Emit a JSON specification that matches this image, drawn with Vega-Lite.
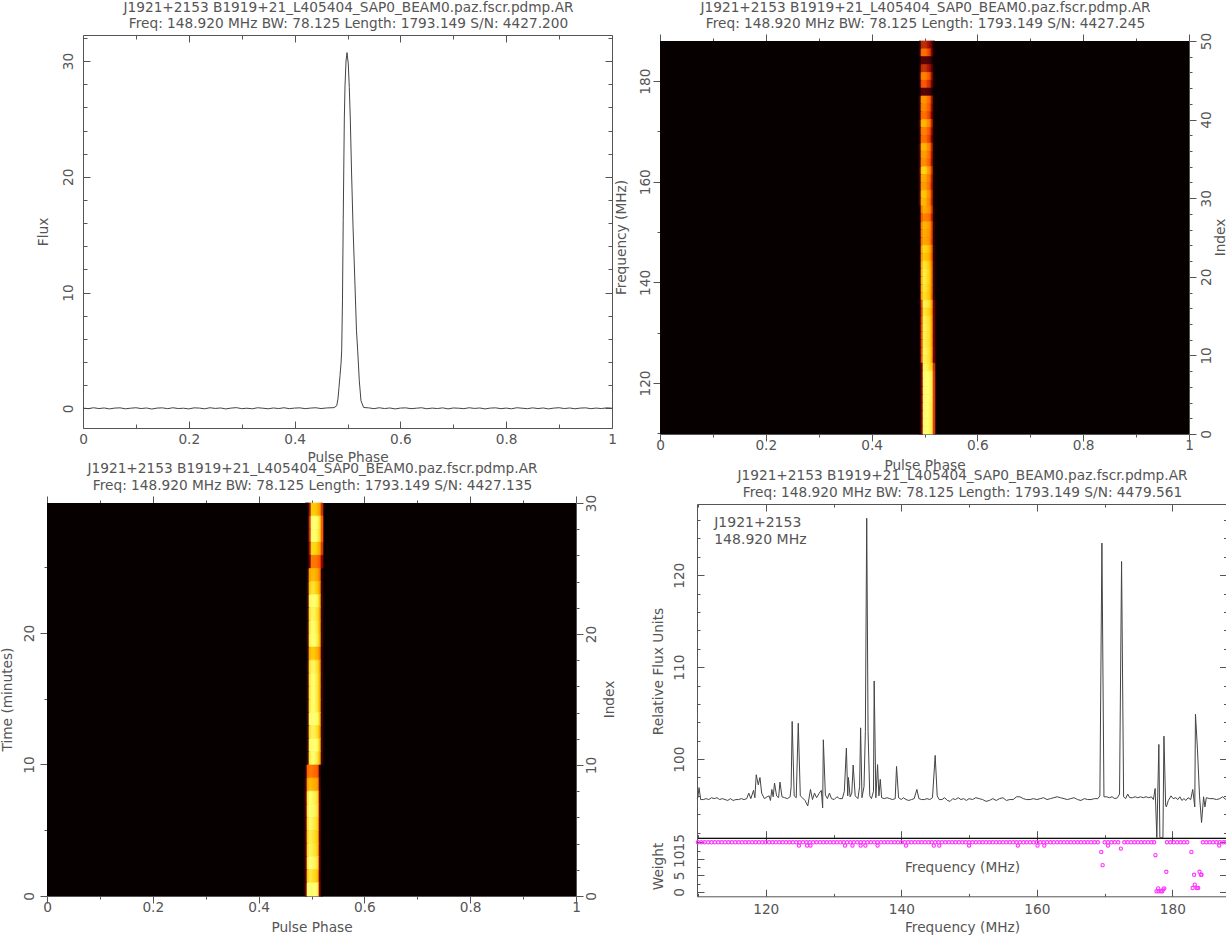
{"$schema":"https://vega.github.io/schema/vega-lite/v6.json","padding":0,"background":"white","columns":2,"spacing":0,"bounds":"flush",
"config":{"view":{"stroke":null},"font":"DejaVu Sans","concat":{"spacing":0},
"axis":{"grid":false,"domainColor":"#555","tickColor":"#555","labelColor":"#555","titleColor":"#555","labelFont":"DejaVu Sans","titleFont":"DejaVu Sans","labelFontSize":13.7,"titleFontSize":13.7,"titleFontWeight":"normal","labelOverlap":false,"labelFlush":false,"format":"~f","domainWidth":1,"tickWidth":1},
"axisX":{"labelAngle":0,"labelAlign":"center","labelBaseline":"middle","titleAlign":"center","titleBaseline":"middle"},
"axisY":{"labelAngle":-90,"labelAlign":"center","labelBaseline":"middle","titleAngle":-90,"titleAlign":"center","titleBaseline":"middle"}},
"datasets":{"e":[],
"profile":[{"p":0,"v":0.02},{"p":0.01,"v":-0.03},{"p":0.02,"v":0.05},{"p":0.03,"v":-0.02},{"p":0.04,"v":0.03},{"p":0.05,"v":-0.05},{"p":0.06,"v":0.02},{"p":0.07,"v":0.04},{"p":0.08,"v":-0.04},{"p":0.09,"v":0.01},{"p":0.1,"v":0.05},{"p":0.11,"v":-0.02},{"p":0.12,"v":0.03},{"p":0.13,"v":-0.06},{"p":0.14,"v":0.02},{"p":0.15,"v":0.04},{"p":0.16,"v":-0.03},{"p":0.17,"v":0.05},{"p":0.18,"v":-0.02},{"p":0.19,"v":0.01},{"p":0.2,"v":-0.05},{"p":0.21,"v":0.04},{"p":0.22,"v":0.02},{"p":0.23,"v":-0.04},{"p":0.24,"v":0.05},{"p":0.25,"v":-0.01},{"p":0.26,"v":0.03},{"p":0.27,"v":-0.05},{"p":0.28,"v":0.02},{"p":0.29,"v":0.06},{"p":0.3,"v":-0.03},{"p":0.31,"v":0.01},{"p":0.32,"v":-0.04},{"p":0.33,"v":0.05},{"p":0.34,"v":0.01},{"p":0.35,"v":-0.04},{"p":0.36,"v":0.03},{"p":0.37,"v":-0.02},{"p":0.38,"v":0.05},{"p":0.39,"v":-0.03},{"p":0.4,"v":0.02},{"p":0.41,"v":0.04},{"p":0.42,"v":-0.03},{"p":0.43,"v":0.02},{"p":0.44,"v":0.05},{"p":0.45,"v":-0.02},{"p":0.46,"v":0.03},{"p":0.4745,"v":0.06},{"p":0.4796,"v":0.22},{"p":0.482,"v":0.82},{"p":0.4839,"v":1.8},{"p":0.4858,"v":2.81},{"p":0.4877,"v":3.84},{"p":0.489,"v":4.97},{"p":0.4905,"v":9.28},{"p":0.4919,"v":16.2},{"p":0.494,"v":25},{"p":0.4953,"v":27.85},{"p":0.4972,"v":30},{"p":0.4991,"v":30.73},{"p":0.5015,"v":29.75},{"p":0.5034,"v":27.7},{"p":0.5053,"v":25},{"p":0.5076,"v":20.5},{"p":0.5104,"v":15.76},{"p":0.5142,"v":10.58},{"p":0.517,"v":6.69},{"p":0.5193,"v":4.97},{"p":0.5223,"v":2.37},{"p":0.5255,"v":0.65},{"p":0.5306,"v":0.07},{"p":0.54,"v":0.04},{"p":0.55,"v":-0.03},{"p":0.56,"v":0.05},{"p":0.57,"v":-0.02},{"p":0.58,"v":0.03},{"p":0.59,"v":-0.05},{"p":0.6,"v":0.02},{"p":0.61,"v":0.04},{"p":0.62,"v":-0.03},{"p":0.63,"v":0.01},{"p":0.64,"v":0.05},{"p":0.65,"v":-0.04},{"p":0.66,"v":0.02},{"p":0.67,"v":-0.02},{"p":0.68,"v":0.04},{"p":0.69,"v":-0.05},{"p":0.7,"v":0.03},{"p":0.71,"v":0.01},{"p":0.72,"v":-0.03},{"p":0.73,"v":0.05},{"p":0.74,"v":-0.01},{"p":0.75,"v":0.03},{"p":0.76,"v":-0.05},{"p":0.77,"v":0.02},{"p":0.78,"v":0.04},{"p":0.79,"v":-0.03},{"p":0.8,"v":0.02},{"p":0.81,"v":-0.04},{"p":0.82,"v":0.05},{"p":0.83,"v":0.01},{"p":0.84,"v":-0.03},{"p":0.85,"v":0.04},{"p":0.86,"v":-0.02},{"p":0.87,"v":0.03},{"p":0.88,"v":-0.05},{"p":0.89,"v":0.02},{"p":0.9,"v":0.05},{"p":0.91,"v":-0.02},{"p":0.92,"v":0.03},{"p":0.93,"v":-0.04},{"p":0.94,"v":0.02},{"p":0.95,"v":0.04},{"p":0.96,"v":-0.03},{"p":0.97,"v":0.02},{"p":0.98,"v":-0.02},{"p":0.99,"v":0.04},{"p":1,"v":0.01}],
"colsTR":[{"k":"b","p":0.4896,"q":0.4934},{"k":"c","p":0.4934,"q":0.4972},{"k":"d","p":0.4972,"q":0.5009},{"k":"e","p":0.5009,"q":0.5047},{"k":"f","p":0.5047,"q":0.5085},{"k":"g","p":0.5085,"q":0.5123},{"k":"h","p":0.5123,"q":0.5161},{"k":"j","p":0.5161,"q":0.5198}],
"colsBL":[{"k":"b","p":0.4877,"q":0.4915},{"k":"c","p":0.4915,"q":0.4953},{"k":"d","p":0.4953,"q":0.4991},{"k":"e","p":0.4991,"q":0.5028},{"k":"f","p":0.5028,"q":0.5066},{"k":"g","p":0.5066,"q":0.5104},{"k":"h","p":0.5104,"q":0.5142},{"k":"j","p":0.5142,"q":0.518},{"k":"l","p":0.518,"q":0.5217}],
"heatTR":[{"i":49,"t":50,"b":7,"c":33,"d":35,"e":34,"f":30,"g":27,"h":18,"j":3},{"i":48,"t":49,"b":10,"c":48,"d":50,"e":49,"f":43,"g":39,"h":25,"j":4},{"i":47,"t":48,"b":4,"c":17,"d":18,"e":17,"f":15,"g":14,"h":9,"j":1},{"i":46,"t":47,"b":7,"c":34,"d":36,"e":35,"f":31,"g":28,"h":18,"j":3},{"i":45,"t":46,"b":11,"c":52,"d":55,"e":53,"f":47,"g":43,"h":28,"j":4},{"i":44,"t":45,"b":9,"c":43,"d":45,"e":44,"f":38,"g":35,"h":23,"j":4},{"i":43,"t":44,"b":4,"c":17,"d":18,"e":17,"f":15,"g":14,"h":9,"j":1},{"i":42,"t":43,"b":12,"c":57,"d":60,"e":58,"f":51,"g":47,"h":30,"j":5},{"i":41,"t":42,"b":11,"c":53,"d":56,"e":54,"f":48,"g":44,"h":28,"j":4},{"i":40,"t":41,"b":10,"c":48,"d":50,"e":49,"f":43,"g":39,"h":25,"j":4},{"i":39,"t":40,"b":14,"c":65,"d":68,"e":66,"f":58,"g":53,"h":34,"j":5},{"i":38,"t":39,"b":11,"c":52,"d":55,"e":53,"f":47,"g":43,"h":28,"j":4},{"i":37,"t":38,"b":10,"c":48,"d":50,"e":49,"f":43,"g":39,"h":25,"j":4},{"i":36,"t":37,"b":14,"c":65,"d":68,"e":66,"f":58,"g":53,"h":34,"j":5},{"i":35,"t":36,"b":12,"c":59,"d":62,"e":60,"f":53,"g":48,"h":31,"j":5},{"i":34,"t":35,"b":12,"c":55,"d":58,"e":56,"f":49,"g":45,"h":29,"j":5},{"i":33,"t":34,"b":15,"c":71,"d":75,"e":73,"f":64,"g":58,"h":38,"j":6},{"i":32,"t":33,"b":13,"c":62,"d":65,"e":63,"f":55,"g":51,"h":33,"j":5},{"i":31,"t":32,"b":12,"c":59,"d":62,"e":60,"f":53,"g":48,"h":31,"j":5},{"i":30,"t":31,"b":14,"c":68,"d":72,"e":70,"f":61,"g":56,"h":36,"j":6},{"i":29,"t":30,"b":14,"c":65,"d":68,"e":66,"f":58,"g":53,"h":34,"j":5},{"i":28,"t":29,"b":5,"c":52,"d":65,"e":63,"f":60,"g":57,"h":40,"j":9},{"i":27,"t":28,"b":4,"c":44,"d":55,"e":53,"f":51,"g":48,"h":34,"j":8},{"i":26,"t":27,"b":5,"c":54,"d":68,"e":66,"f":63,"g":60,"h":42,"j":10},{"i":25,"t":26,"b":5,"c":53,"d":66,"e":64,"f":61,"g":58,"h":41,"j":9},{"i":24,"t":25,"b":4,"c":51,"d":64,"e":62,"f":60,"g":56,"h":40,"j":9},{"i":23,"t":24,"b":5,"c":61,"d":76,"e":74,"f":71,"g":67,"h":47,"j":11},{"i":22,"t":23,"b":5,"c":58,"d":72,"e":70,"f":67,"g":63,"h":45,"j":10},{"i":21,"t":22,"b":6,"c":64,"d":80,"e":78,"f":74,"g":70,"h":50,"j":11},{"i":20,"t":21,"b":6,"c":66,"d":82,"e":80,"f":76,"g":72,"h":51,"j":11},{"i":19,"t":20,"b":6,"c":66,"d":82,"e":80,"f":76,"g":72,"h":51,"j":11},{"i":18,"t":19,"b":6,"c":64,"d":80,"e":78,"f":74,"g":70,"h":50,"j":11},{"i":17,"t":18,"b":5,"c":62,"d":78,"e":76,"f":73,"g":69,"h":48,"j":11},{"i":16,"t":17,"b":3,"c":43,"d":85,"e":83,"f":80,"g":77,"h":64,"j":21},{"i":15,"t":16,"b":2,"c":40,"d":80,"e":78,"f":75,"g":72,"h":60,"j":20},{"i":14,"t":15,"b":3,"c":42,"d":84,"e":82,"f":79,"g":76,"h":63,"j":21},{"i":13,"t":14,"b":3,"c":43,"d":85,"e":83,"f":80,"g":77,"h":64,"j":21},{"i":12,"t":13,"b":3,"c":42,"d":84,"e":82,"f":79,"g":76,"h":63,"j":21},{"i":11,"t":12,"b":3,"c":42,"d":84,"e":82,"f":79,"g":76,"h":63,"j":21},{"i":10,"t":11,"b":3,"c":43,"d":86,"e":84,"f":81,"g":77,"h":65,"j":22},{"i":9,"t":10,"b":3,"c":43,"d":85,"e":83,"f":80,"g":77,"h":64,"j":21},{"i":8,"t":9,"b":1,"c":22,"d":85,"e":85,"f":82,"g":78,"h":75,"j":36},{"i":7,"t":8,"b":1,"c":24,"d":94,"e":94,"f":90,"g":86,"h":83,"j":39},{"i":6,"t":7,"b":1,"c":24,"d":94,"e":94,"f":90,"g":86,"h":83,"j":39},{"i":5,"t":6,"b":1,"c":24,"d":94,"e":94,"f":90,"g":86,"h":83,"j":39},{"i":4,"t":5,"b":1,"c":24,"d":94,"e":94,"f":90,"g":86,"h":83,"j":39},{"i":3,"t":4,"b":1,"c":24,"d":92,"e":92,"f":88,"g":85,"h":81,"j":39},{"i":2,"t":3,"b":1,"c":24,"d":92,"e":92,"f":88,"g":85,"h":81,"j":39},{"i":1,"t":2,"b":1,"c":24,"d":92,"e":92,"f":88,"g":85,"h":81,"j":39},{"i":0,"t":1,"b":1,"c":24,"d":92,"e":92,"f":88,"g":85,"h":81,"j":39}],
"heatBL":[{"i":29,"t":30,"b":0,"c":2,"d":29,"e":72,"f":72,"g":71,"h":66,"j":61,"l":36},{"i":28,"t":29,"b":0,"c":3,"d":37,"e":92,"f":92,"g":90,"h":85,"j":78,"l":46},{"i":27,"t":28,"b":0,"c":3,"d":36,"e":90,"f":90,"g":88,"h":83,"j":77,"l":45},{"i":26,"t":27,"b":0,"c":2,"d":30,"e":75,"f":75,"g":74,"h":69,"j":64,"l":38},{"i":25,"t":26,"b":0,"c":2,"d":21,"e":52,"f":52,"g":51,"h":48,"j":44,"l":26},{"i":24,"t":25,"b":0,"c":10,"d":61,"e":68,"f":68,"g":65,"h":61,"j":51,"l":10},{"i":23,"t":24,"b":0,"c":12,"d":70,"e":78,"f":78,"g":74,"h":70,"j":59,"l":12},{"i":22,"t":23,"b":0,"c":14,"d":83,"e":92,"f":92,"g":87,"h":83,"j":69,"l":14},{"i":21,"t":22,"b":0,"c":13,"d":77,"e":85,"f":85,"g":81,"h":77,"j":64,"l":13},{"i":20,"t":21,"b":0,"c":13,"d":79,"e":88,"f":88,"g":84,"h":79,"j":66,"l":13},{"i":19,"t":20,"b":0,"c":14,"d":81,"e":90,"f":90,"g":86,"h":81,"j":68,"l":14},{"i":18,"t":19,"b":0,"c":11,"d":65,"e":72,"f":72,"g":68,"h":65,"j":54,"l":11},{"i":17,"t":18,"b":0,"c":13,"d":77,"e":85,"f":85,"g":81,"h":77,"j":64,"l":13},{"i":16,"t":17,"b":0,"c":13,"d":79,"e":88,"f":88,"g":84,"h":79,"j":66,"l":13},{"i":15,"t":16,"b":0,"c":13,"d":79,"e":88,"f":88,"g":84,"h":79,"j":66,"l":13},{"i":14,"t":15,"b":0,"c":13,"d":79,"e":88,"f":88,"g":84,"h":79,"j":66,"l":13},{"i":13,"t":14,"b":0,"c":14,"d":86,"e":96,"f":96,"g":91,"h":86,"j":72,"l":14},{"i":12,"t":13,"b":0,"c":13,"d":76,"e":84,"f":84,"g":80,"h":76,"j":63,"l":13},{"i":11,"t":12,"b":0,"c":14,"d":85,"e":94,"f":94,"g":89,"h":85,"j":71,"l":14},{"i":10,"t":11,"b":0,"c":13,"d":79,"e":88,"f":88,"g":84,"h":79,"j":66,"l":13},{"i":9,"t":10,"b":10,"c":47,"d":52,"e":52,"f":49,"g":48,"h":44,"j":13,"l":0},{"i":8,"t":9,"b":14,"c":61,"d":68,"e":68,"f":65,"g":63,"h":58,"j":17,"l":0},{"i":7,"t":8,"b":18,"c":79,"d":88,"e":88,"f":84,"g":81,"h":75,"j":22,"l":0},{"i":6,"t":7,"b":18,"c":81,"d":90,"e":90,"f":86,"g":83,"h":77,"j":23,"l":0},{"i":5,"t":6,"b":17,"c":77,"d":86,"e":86,"f":82,"g":79,"h":73,"j":22,"l":0},{"i":4,"t":5,"b":16,"c":74,"d":82,"e":82,"f":78,"g":75,"h":70,"j":21,"l":0},{"i":3,"t":4,"b":17,"c":76,"d":84,"e":84,"f":80,"g":77,"h":71,"j":21,"l":0},{"i":2,"t":3,"b":18,"c":81,"d":90,"e":90,"f":86,"g":83,"h":77,"j":23,"l":0},{"i":1,"t":2,"b":16,"c":72,"d":80,"e":80,"f":76,"g":74,"h":68,"j":20,"l":0},{"i":0,"t":1,"b":20,"c":88,"d":98,"e":98,"f":93,"g":90,"h":83,"j":25,"l":0}],
"spectrum":[{"f":109.9,"v":95.7},{"f":110,"v":95.9},{"f":110.16,"v":96.9},{"f":110.4,"v":95.6},{"f":110.8,"v":95.6},{"f":111.2,"v":95.7},{"f":111.6,"v":95.6},{"f":112,"v":95.8},{"f":112.4,"v":95.7},{"f":112.8,"v":95.8},{"f":113.2,"v":95.6},{"f":113.6,"v":95.7},{"f":114,"v":95.6},{"f":114.4,"v":95.5},{"f":114.8,"v":95.7},{"f":115.2,"v":95.5},{"f":115.6,"v":95.6},{"f":116,"v":95.6},{"f":116.4,"v":95.7},{"f":116.8,"v":95.6},{"f":117.2,"v":95.7},{"f":117.5,"v":96.3},{"f":117.8,"v":95.7},{"f":118.2,"v":96.6},{"f":118.4,"v":95.8},{"f":118.6,"v":98.3},{"f":118.9,"v":97.2},{"f":119.15,"v":98},{"f":119.4,"v":96.3},{"f":119.8,"v":95.7},{"f":120.2,"v":95.9},{"f":120.5,"v":96},{"f":120.7,"v":95.5},{"f":120.9,"v":96.7},{"f":121.1,"v":95.9},{"f":121.3,"v":97.4},{"f":121.6,"v":96},{"f":121.9,"v":95.8},{"f":122.1,"v":97.5},{"f":122.4,"v":95.9},{"f":122.8,"v":95.8},{"f":123.2,"v":95.7},{"f":123.6,"v":95.9},{"f":123.75,"v":97},{"f":123.9,"v":104.1},{"f":124.2,"v":96},{"f":124.5,"v":95.8},{"f":124.8,"v":103.9},{"f":125.1,"v":96},{"f":125.4,"v":95.8},{"f":125.8,"v":95.5},{"f":126.2,"v":94.9},{"f":126.6,"v":96.7},{"f":126.9,"v":95.6},{"f":127.2,"v":96.3},{"f":127.5,"v":95.8},{"f":127.9,"v":96.3},{"f":128.2,"v":96.6},{"f":128.4,"v":94.7},{"f":128.5,"v":102.1},{"f":128.8,"v":96.1},{"f":129.1,"v":95.7},{"f":129.4,"v":96.3},{"f":129.7,"v":95.7},{"f":130.1,"v":95.6},{"f":130.5,"v":95.9},{"f":130.9,"v":95.7},{"f":131.3,"v":95.7},{"f":131.6,"v":96.5},{"f":131.9,"v":101.2},{"f":132.1,"v":96},{"f":132.2,"v":98},{"f":132.45,"v":95.9},{"f":132.7,"v":96.3},{"f":132.9,"v":99.35},{"f":133.2,"v":96},{"f":133.6,"v":95.7},{"f":133.85,"v":97},{"f":134,"v":103.4},{"f":134.2,"v":95.8},{"f":134.5,"v":97},{"f":134.7,"v":103},{"f":134.9,"v":126.2},{"f":135.1,"v":103},{"f":135.35,"v":96},{"f":135.6,"v":95.7},{"f":135.9,"v":96.5},{"f":136,"v":108.5},{"f":136.25,"v":95.8},{"f":136.5,"v":99.4},{"f":136.7,"v":96},{"f":136.9,"v":97.8},{"f":137.1,"v":95.8},{"f":137.5,"v":95.7},{"f":137.9,"v":95.8},{"f":138.3,"v":95.7},{"f":138.7,"v":95.6},{"f":139.1,"v":95.7},{"f":139.3,"v":99.2},{"f":139.6,"v":95.8},{"f":140,"v":95.6},{"f":140.3,"v":95.8},{"f":140.7,"v":95.6},{"f":141.1,"v":95.5},{"f":141.5,"v":95.6},{"f":141.9,"v":95.7},{"f":142.3,"v":96.7},{"f":142.6,"v":95.7},{"f":143,"v":95.6},{"f":143.4,"v":95.6},{"f":143.8,"v":95.7},{"f":144.2,"v":95.6},{"f":144.6,"v":95.8},{"f":145,"v":100.4},{"f":145.3,"v":96},{"f":145.6,"v":95.6},{"f":146,"v":95.6},{"f":146.4,"v":95.8},{"f":146.8,"v":95.5},{"f":147.2,"v":95.4},{"f":147.6,"v":95.7},{"f":148,"v":95.6},{"f":148.4,"v":95.8},{"f":148.8,"v":95.6},{"f":149.2,"v":95.7},{"f":149.6,"v":95.5},{"f":150,"v":95.7},{"f":150.5,"v":95.6},{"f":151,"v":95.8},{"f":151.5,"v":95.7},{"f":152,"v":95.6},{"f":152.5,"v":95.4},{"f":153,"v":95.5},{"f":153.5,"v":95.7},{"f":154,"v":95.5},{"f":154.5,"v":95.7},{"f":155,"v":95.8},{"f":155.5,"v":95.5},{"f":156,"v":95.6},{"f":156.5,"v":95.6},{"f":157,"v":95.9},{"f":157.5,"v":95.9},{"f":158,"v":95.7},{"f":158.5,"v":95.6},{"f":159,"v":95.6},{"f":159.5,"v":95.7},{"f":160,"v":95.6},{"f":160.5,"v":95.7},{"f":161,"v":95.8},{"f":161.5,"v":95.6},{"f":162,"v":95.7},{"f":162.5,"v":95.8},{"f":163,"v":95.9},{"f":163.5,"v":95.8},{"f":164,"v":95.7},{"f":164.5,"v":95.6},{"f":165,"v":95.7},{"f":165.5,"v":95.8},{"f":166,"v":95.6},{"f":166.5,"v":95.5},{"f":167,"v":95.7},{"f":167.5,"v":95.6},{"f":168,"v":95.6},{"f":168.5,"v":95.7},{"f":169,"v":95.7},{"f":169.3,"v":96},{"f":169.6,"v":123.5},{"f":169.9,"v":95.9},{"f":170.3,"v":95.9},{"f":170.7,"v":95.8},{"f":171.1,"v":95.9},{"f":171.5,"v":95.7},{"f":171.9,"v":95.8},{"f":172.2,"v":96.2},{"f":172.5,"v":121.5},{"f":172.8,"v":95.9},{"f":173.1,"v":95.7},{"f":173.4,"v":96.2},{"f":173.7,"v":95.8},{"f":174.1,"v":95.8},{"f":174.5,"v":95.9},{"f":174.9,"v":95.8},{"f":175.3,"v":95.9},{"f":175.7,"v":95.8},{"f":176.1,"v":95.9},{"f":176.5,"v":95.8},{"f":176.9,"v":95.9},{"f":177.2,"v":95.6},{"f":177.45,"v":96.8},{"f":177.7,"v":91.45},{"f":178,"v":101.6},{"f":178.15,"v":91.45},{"f":178.6,"v":91.45},{"f":178.75,"v":102.5},{"f":179,"v":95},{"f":179.1,"v":94.8},{"f":179.4,"v":95.5},{"f":179.8,"v":96},{"f":180.1,"v":95.7},{"f":180.5,"v":95.8},{"f":180.8,"v":95.6},{"f":181.1,"v":95.9},{"f":181.4,"v":95.5},{"f":181.7,"v":95.7},{"f":182,"v":95.5},{"f":182.3,"v":95.8},{"f":182.7,"v":95.6},{"f":183,"v":96.7},{"f":183.3,"v":94.8},{"f":183.4,"v":104.9},{"f":183.7,"v":101},{"f":184,"v":96},{"f":184.3,"v":93.1},{"f":184.6,"v":95.9},{"f":184.8,"v":94.8},{"f":185,"v":95.8},{"f":185.5,"v":95.7},{"f":186,"v":95.7},{"f":186.5,"v":95.6},{"f":187,"v":95.7},{"f":187.4,"v":95.9},{"f":187.9,"v":95.6}],
"notes":[{"f":112.4,"v":125.65,"t":"J1921+2153"},{"f":112.4,"v":123.8,"t":"148.920 MHz"}],
"weights":[{"f":110,"w":15},{"f":110.5,"w":15},{"f":111,"w":15},{"f":111.5,"w":15},{"f":112,"w":15},{"f":112.5,"w":15},{"f":113,"w":15},{"f":113.5,"w":15},{"f":114,"w":15},{"f":114.5,"w":15},{"f":115,"w":15},{"f":115.5,"w":15},{"f":116,"w":15},{"f":116.5,"w":15},{"f":117,"w":15},{"f":117.5,"w":15},{"f":118,"w":15},{"f":118.5,"w":15},{"f":119,"w":15},{"f":119.5,"w":15},{"f":120,"w":15},{"f":120.5,"w":15},{"f":121,"w":15},{"f":121.5,"w":15},{"f":122,"w":15},{"f":122.5,"w":15},{"f":123,"w":15},{"f":123.5,"w":15},{"f":124,"w":15},{"f":124.5,"w":15},{"f":125,"w":15},{"f":125.5,"w":15},{"f":126,"w":15},{"f":126.5,"w":15},{"f":127,"w":15},{"f":127.5,"w":15},{"f":128,"w":15},{"f":128.5,"w":15},{"f":129,"w":15},{"f":129.5,"w":15},{"f":130,"w":15},{"f":130.5,"w":15},{"f":131,"w":15},{"f":131.5,"w":15},{"f":132,"w":15},{"f":132.5,"w":15},{"f":133,"w":15},{"f":133.5,"w":15},{"f":134,"w":15},{"f":134.5,"w":15},{"f":135,"w":15},{"f":135.5,"w":15},{"f":136,"w":15},{"f":136.5,"w":15},{"f":137,"w":15},{"f":137.5,"w":15},{"f":138,"w":15},{"f":138.5,"w":15},{"f":139,"w":15},{"f":139.5,"w":15},{"f":140,"w":15},{"f":140.5,"w":15},{"f":141,"w":15},{"f":141.5,"w":15},{"f":142,"w":15},{"f":142.5,"w":15},{"f":143,"w":15},{"f":143.5,"w":15},{"f":144,"w":15},{"f":144.5,"w":15},{"f":145,"w":15},{"f":145.5,"w":15},{"f":146,"w":15},{"f":146.5,"w":15},{"f":147,"w":15},{"f":147.5,"w":15},{"f":148,"w":15},{"f":148.5,"w":15},{"f":149,"w":15},{"f":149.5,"w":15},{"f":150,"w":15},{"f":150.5,"w":15},{"f":151,"w":15},{"f":151.5,"w":15},{"f":152,"w":15},{"f":152.5,"w":15},{"f":153,"w":15},{"f":153.5,"w":15},{"f":154,"w":15},{"f":154.5,"w":15},{"f":155,"w":15},{"f":155.5,"w":15},{"f":156,"w":15},{"f":156.5,"w":15},{"f":157,"w":15},{"f":157.5,"w":15},{"f":158,"w":15},{"f":158.5,"w":15},{"f":159,"w":15},{"f":159.5,"w":15},{"f":160,"w":15},{"f":160.5,"w":15},{"f":161,"w":15},{"f":161.5,"w":15},{"f":162,"w":15},{"f":162.5,"w":15},{"f":163,"w":15},{"f":163.5,"w":15},{"f":164,"w":15},{"f":164.5,"w":15},{"f":165,"w":15},{"f":165.5,"w":15},{"f":166,"w":15},{"f":166.5,"w":15},{"f":167,"w":15},{"f":167.5,"w":15},{"f":168,"w":15},{"f":168.5,"w":15},{"f":169,"w":15},{"f":170,"w":15},{"f":170.5,"w":15},{"f":171,"w":15},{"f":171.5,"w":15},{"f":172,"w":15},{"f":172.9,"w":15},{"f":173.4,"w":15},{"f":173.9,"w":15},{"f":174.4,"w":15},{"f":174.9,"w":15},{"f":175.4,"w":15},{"f":175.9,"w":15},{"f":176.4,"w":15},{"f":176.9,"w":15},{"f":177.3,"w":15},{"f":179.2,"w":15},{"f":179.7,"w":15},{"f":180.2,"w":15},{"f":180.7,"w":15},{"f":181.2,"w":15},{"f":181.7,"w":15},{"f":182.2,"w":15},{"f":184.5,"w":15},{"f":185,"w":15},{"f":185.5,"w":15},{"f":186,"w":15},{"f":186.5,"w":15},{"f":187,"w":15},{"f":187.5,"w":15},{"f":187.9,"w":15},{"f":150,"w":14},{"f":157.2,"w":14},{"f":160.1,"w":14},{"f":161.1,"w":14},{"f":169.5,"w":12.1},{"f":169.7,"w":8.1},{"f":170.5,"w":14},{"f":172.4,"w":13.1},{"f":177.5,"w":11.1},{"f":179.1,"w":6.1},{"f":182.8,"w":12.1},{"f":184,"w":6.1},{"f":183.2,"w":5.2},{"f":184.2,"w":5.2},{"f":184.3,"w":5.2},{"f":177.9,"w":1.1},{"f":178.8,"w":1.1},{"f":178.66,"w":0.8},{"f":177.66,"w":0.2},{"f":177.95,"w":0.2},{"f":178.3,"w":0.2},{"f":178.5,"w":0.2},{"f":183.3,"w":2.2},{"f":182.98,"w":1.2},{"f":183.6,"w":1.2},{"f":183.8,"w":1.2},{"f":186.9,"w":14},{"f":124.9,"w":14},{"f":126.1,"w":14},{"f":126.6,"w":14},{"f":131.7,"w":14},{"f":132.8,"w":14},{"f":134,"w":14},{"f":134.7,"w":14},{"f":136.5,"w":14},{"f":140.7,"w":14},{"f":144.8,"w":14},{"f":145.6,"w":14}]},
"concat":[
{"width":613,"height":467,"resolve":{"scale":{"x":"independent","y":"independent"},"axis":{"x":"independent","y":"independent"}},"layer":[
{"data":{"name":"profile"},"mark":{"type":"line","color":"#444","strokeWidth":1,"clip":false},"encoding":{"x":{"field":"p","type":"quantitative","axis":null,"scale":{"domain":[0,1],"range":[82,611]}},"y":{"field":"v","type":"quantitative","axis":null,"scale":{"domain":[-1.7,32.25],"range":[427,34]}}}},
{"data":{"name":"e"},"mark":{"type":"point","opacity":0},"encoding":{"x":{"field":"a","type":"quantitative","scale":{"domain":[0,1],"range":[82,611]},"axis":{"orient":"bottom","offset":-40,"values":[0,0.2,0.4,0.6,0.8,1],"tickSize":-7,"labelPadding":18,"title":"Pulse Phase","titleX":346.5,"titleY":29}},"y":{"field":"a","type":"quantitative","scale":{"domain":[-1.7,32.25],"range":[427,34]},"axis":{"orient":"left","offset":-82,"values":[0,10,20,30],"tickSize":-7,"labelPadding":22,"title":"Flux","titleX":-40,"titleY":230.5}}}},
{"data":{"name":"e"},"mark":{"type":"point","opacity":0},"encoding":{"x":{"field":"a","type":"quantitative","scale":{"domain":[0,1],"range":[82,611]},"axis":{"orient":"bottom","offset":-40,"values":[0.1,0.3,0.5,0.7,0.9],"tickSize":-4,"labels":false,"domain":false,"title":null}},"y":{"field":"a","type":"quantitative","scale":{"domain":[-1.7,32.25],"range":[427,34]},"axis":{"orient":"left","offset":-82,"values":[2,4,6,8,12,14,16,18,22,24,26,28,32],"tickSize":-4,"labels":false,"domain":false,"title":null}}}},
{"data":{"name":"e"},"mark":{"type":"point","opacity":0},"encoding":{"x":{"field":"a","type":"quantitative","scale":{"domain":[0,1],"range":[82,611]},"axis":{"orient":"top","offset":-34,"values":[0,0.2,0.4,0.6,0.8,1],"tickSize":-7,"labels":false,"title":"J1921+2153 B1919+21_L405404_SAP0_BEAM0.paz.fscr.pdmp.AR","titleX":347,"titleY":-28}},"y":{"field":"a","type":"quantitative","scale":{"domain":[-1.7,32.25],"range":[427,34]},"axis":{"orient":"right","offset":-2,"values":[0,10,20,30],"tickSize":-7,"labels":false,"title":null}}}},
{"data":{"name":"e"},"mark":{"type":"point","opacity":0},"encoding":{"x":{"field":"a","type":"quantitative","scale":{"domain":[0,1],"range":[82,611]},"axis":{"orient":"top","offset":-34,"values":[0.1,0.3,0.5,0.7,0.9],"tickSize":-4,"labels":false,"domain":false,"title":"Freq: 148.920 MHz BW: 78.125 Length: 1793.149 S/N: 4427.200","titleX":347,"titleY":-12}},"y":{"field":"a","type":"quantitative","scale":{"domain":[-1.7,32.25],"range":[427,34]},"axis":{"orient":"right","offset":-2,"values":[2,4,6,8,12,14,16,18,22,24,26,28,32],"tickSize":-4,"labels":false,"domain":false,"title":null}}}}
]},
{"width":613,"height":467,"resolve":{"scale":{"x":"independent","y":"independent","fill":"independent"},"axis":{"x":"independent","y":"independent"}},"layer":[
{"data":{"values":[{"x0":0,"x1":1,"y0":0,"y1":50}]},"mark":{"type":"rect","fill":"#060000"},"encoding":{"x":{"field":"x0","type":"quantitative","axis":null,"scale":{"domain":[0,1],"range":[46,575]}},"x2":{"field":"x1"},"y":{"field":"y0","type":"quantitative","axis":null,"scale":{"domain":[0,50],"range":[433,40]}},"y2":{"field":"y1"}}},
{"data":{"name":"heatTR"},"transform":[{"fold":["b","c","d","e","f","g","h","j"],"as":["k","val"]},{"lookup":"k","from":{"data":{"name":"colsTR"},"key":"k","fields":["p","q"]}}],"mark":{"type":"rect","strokeWidth":0.7},"encoding":{"x":{"field":"p","type":"quantitative","axis":null,"scale":{"domain":[0,1],"range":[46,575]}},"x2":{"field":"q"},"y":{"field":"i","type":"quantitative","axis":null,"scale":{"domain":[0,50],"range":[433,40]}},"y2":{"field":"t"},"fill":{"field":"val","type":"quantitative","legend":null,"scale":{"domain":[0,8,25,45,60,75,88,100],"range":["#060000","#200000","#8b0000","#ff5a00","#ff9a00","#ffd818","#ffff70","#ffffff"]}},"stroke":{"field":"val","type":"quantitative","legend":null,"scale":{"domain":[0,8,25,45,60,75,88,100],"range":["#060000","#200000","#8b0000","#ff5a00","#ff9a00","#ffd818","#ffff70","#ffffff"]}}}},
{"data":{"name":"e"},"mark":{"type":"point","opacity":0},"encoding":{"x":{"field":"a","type":"quantitative","scale":{"domain":[0,1],"range":[46,575]},"axis":{"orient":"bottom","offset":-34,"values":[0,0.2,0.4,0.6,0.8,1],"tickSize":7,"labelPadding":4,"title":"Pulse Phase","titleX":310.5,"titleY":31}},"y":{"field":"a","type":"quantitative","scale":{"domain":[109.86,187.98],"range":[433,40]},"axis":{"orient":"left","offset":-46,"values":[120,140,160,180],"tickSize":7,"labelPadding":8,"title":"Frequency (MHz)","titleX":-39,"titleY":236}}}},
{"data":{"name":"e"},"mark":{"type":"point","opacity":0},"encoding":{"x":{"field":"a","type":"quantitative","scale":{"domain":[0,1],"range":[46,575]},"axis":{"orient":"bottom","offset":-34,"values":[0.1,0.3,0.5,0.7,0.9],"tickSize":3,"labels":false,"domain":false,"title":null}},"y":{"field":"a","type":"quantitative","scale":{"domain":[109.86,187.98],"range":[433,40]},"axis":{"orient":"left","offset":-46,"values":[110,130,150,170],"tickSize":3,"labels":false,"domain":false,"title":null}}}},
{"data":{"name":"e"},"mark":{"type":"point","opacity":0},"encoding":{"x":{"field":"a","type":"quantitative","scale":{"domain":[0,1],"range":[46,575]},"axis":{"orient":"top","offset":-40,"values":[0,0.2,0.4,0.6,0.8,1],"tickSize":7,"labels":false,"domain":false,"title":"J1921+2153 B1919+21_L405404_SAP0_BEAM0.paz.fscr.pdmp.AR","titleX":311,"titleY":-34}},"y":{"field":"a","type":"quantitative","scale":{"domain":[0,50],"range":[433,40]},"axis":{"orient":"right","offset":-38,"values":[0,10,20,30,40,50],"tickSize":7,"labelPadding":10,"title":"Index","titleX":31,"titleY":236}}}},
{"data":{"name":"e"},"mark":{"type":"point","opacity":0},"encoding":{"x":{"field":"a","type":"quantitative","scale":{"domain":[0,1],"range":[46,575]},"axis":{"orient":"top","offset":-40,"values":[0.1,0.3,0.5,0.7,0.9],"tickSize":3,"labels":false,"domain":false,"title":"Freq: 148.920 MHz BW: 78.125 Length: 1793.149 S/N: 4427.245","titleX":311,"titleY":-18}},"y":{"field":"a","type":"quantitative","scale":{"domain":[0,50],"range":[433,40]},"axis":{"orient":"right","offset":-38,"values":[2,4,6,8,12,14,16,18,22,24,26,28,32,34,36,38,42,44,46,48],"tickSize":3,"labels":false,"domain":false,"title":null}}}}
]},
{"width":613,"height":468,"resolve":{"scale":{"x":"independent","y":"independent","fill":"independent"},"axis":{"x":"independent","y":"independent"}},"layer":[
{"data":{"values":[{"x0":0,"x1":1,"y0":0,"y1":30}]},"mark":{"type":"rect","fill":"#060000"},"encoding":{"x":{"field":"x0","type":"quantitative","axis":null,"scale":{"domain":[0,1],"range":[46,575]}},"x2":{"field":"x1"},"y":{"field":"y0","type":"quantitative","axis":null,"scale":{"domain":[0,30],"range":[428,35]}},"y2":{"field":"y1"}}},
{"data":{"name":"heatBL"},"transform":[{"fold":["b","c","d","e","f","g","h","j","l"],"as":["k","val"]},{"lookup":"k","from":{"data":{"name":"colsBL"},"key":"k","fields":["p","q"]}}],"mark":{"type":"rect","strokeWidth":0.7},"encoding":{"x":{"field":"p","type":"quantitative","axis":null,"scale":{"domain":[0,1],"range":[46,575]}},"x2":{"field":"q"},"y":{"field":"i","type":"quantitative","axis":null,"scale":{"domain":[0,30],"range":[428,35]}},"y2":{"field":"t"},"fill":{"field":"val","type":"quantitative","legend":null,"scale":{"domain":[0,8,25,45,60,75,88,100],"range":["#060000","#200000","#8b0000","#ff5a00","#ff9a00","#ffd818","#ffff70","#ffffff"]}},"stroke":{"field":"val","type":"quantitative","legend":null,"scale":{"domain":[0,8,25,45,60,75,88,100],"range":["#060000","#200000","#8b0000","#ff5a00","#ff9a00","#ffd818","#ffff70","#ffffff"]}}}},
{"data":{"name":"e"},"mark":{"type":"point","opacity":0},"encoding":{"x":{"field":"a","type":"quantitative","scale":{"domain":[0,1],"range":[46,575]},"axis":{"orient":"bottom","offset":-40,"values":[0,0.2,0.4,0.6,0.8,1],"tickSize":7,"labelPadding":4,"title":"Pulse Phase","titleX":310.5,"titleY":31}},"y":{"field":"a","type":"quantitative","scale":{"domain":[0,29.885],"range":[428,35]},"axis":{"orient":"left","offset":-46,"values":[0,10,20],"tickSize":7,"labelPadding":11,"title":"Time (minutes)","titleX":-40,"titleY":231}}}},
{"data":{"name":"e"},"mark":{"type":"point","opacity":0},"encoding":{"x":{"field":"a","type":"quantitative","scale":{"domain":[0,1],"range":[46,575]},"axis":{"orient":"bottom","offset":-40,"values":[0.1,0.3,0.5,0.7,0.9],"tickSize":3,"labels":false,"domain":false,"title":null}},"y":{"field":"a","type":"quantitative","scale":{"domain":[0,29.885],"range":[428,35]},"axis":{"orient":"left","offset":-46,"values":[5,15,25],"tickSize":3,"labels":false,"domain":false,"title":null}}}},
{"data":{"name":"e"},"mark":{"type":"point","opacity":0},"encoding":{"x":{"field":"a","type":"quantitative","scale":{"domain":[0,1],"range":[46,575]},"axis":{"orient":"top","offset":-35,"values":[0,0.2,0.4,0.6,0.8,1],"tickSize":7,"labels":false,"domain":false,"title":"J1921+2153 B1919+21_L405404_SAP0_BEAM0.paz.fscr.pdmp.AR","titleX":311,"titleY":-35}},"y":{"field":"a","type":"quantitative","scale":{"domain":[0,30],"range":[428,35]},"axis":{"orient":"right","offset":-38,"values":[0,10,20,30],"tickSize":7,"labelPadding":8,"title":"Index","titleX":33,"titleY":231}}}},
{"data":{"name":"e"},"mark":{"type":"point","opacity":0},"encoding":{"x":{"field":"a","type":"quantitative","scale":{"domain":[0,1],"range":[46,575]},"axis":{"orient":"top","offset":-35,"values":[0.1,0.3,0.5,0.7,0.9],"tickSize":3,"labels":false,"domain":false,"title":"Freq: 148.920 MHz BW: 78.125 Length: 1793.149 S/N: 4427.135","titleX":311,"titleY":-18}},"y":{"field":"a","type":"quantitative","scale":{"domain":[0,30],"range":[428,35]},"axis":{"orient":"right","offset":-38,"values":[2,4,6,8,12,14,16,18,22,24,26,28],"tickSize":3,"labels":false,"domain":false,"title":null}}}}
]},
{"width":613,"height":468,"resolve":{"scale":{"x":"independent","y":"independent"},"axis":{"x":"independent","y":"independent"}},"layer":[
{"data":{"name":"spectrum"},"mark":{"type":"line","color":"#444","strokeWidth":1},"encoding":{"x":{"field":"f","type":"quantitative","axis":null,"scale":{"domain":[109.86,187.98],"range":[83,612.5]}},"y":{"field":"v","type":"quantitative","axis":null,"scale":{"domain":[91.45,127.75],"range":[369.7,36]}}}},
{"data":{"name":"notes"},"mark":{"type":"text","align":"left","baseline":"middle","fontSize":14,"color":"#555","font":"DejaVu Sans"},"encoding":{"x":{"field":"f","type":"quantitative","axis":null,"scale":{"domain":[109.86,187.98],"range":[83,612.5]}},"y":{"field":"v","type":"quantitative","axis":null,"scale":{"domain":[91.45,127.75],"range":[369.7,36]}},"text":{"field":"t"}}},
{"data":{"name":"weights"},"mark":{"type":"point","shape":"circle","filled":false,"size":11,"color":"#ff33ff","strokeWidth":1.1,"opacity":1},"encoding":{"x":{"field":"f","type":"quantitative","axis":null,"scale":{"domain":[109.86,187.98],"range":[83,612.5]}},"y":{"field":"w","type":"quantitative","axis":null,"scale":{"domain":[-1.3,16.3],"range":[428.3,370]}}}},
{"data":{"name":"e"},"mark":{"type":"point","opacity":0},"encoding":{"x":{"field":"a","type":"quantitative","scale":{"domain":[109.86,187.98],"range":[83,612.5]},"axis":{"orient":"bottom","offset":-98.3,"values":[120,140,160,180],"tickSize":-7,"labels":false,"domainColor":"#111","title":"Frequency (MHz)","titleX":348,"titleY":30}},"y":{"field":"a","type":"quantitative","scale":{"domain":[91.45,127.75],"range":[369.7,36]},"axis":{"orient":"left","offset":-83,"values":[100,110,120],"tickSize":-7,"labelPadding":25,"title":"Relative Flux Units","titleX":-39,"titleY":203}}}},
{"data":{"name":"e"},"mark":{"type":"point","opacity":0},"encoding":{"x":{"field":"a","type":"quantitative","scale":{"domain":[109.86,187.98],"range":[83,612.5]},"axis":{"orient":"bottom","offset":-98.3,"values":[110,130,150,170],"tickSize":-3,"labels":false,"domain":false,"title":null}},"y":{"field":"a","type":"quantitative","scale":{"domain":[91.45,127.75],"range":[369.7,36]},"axis":{"orient":"left","offset":-83,"values":[92,94,96,98,102,104,106,108,112,114,116,118,122,124,126],"tickSize":-3,"labels":false,"domain":false,"title":null}}}},
{"data":{"name":"e"},"mark":{"type":"point","opacity":0},"encoding":{"x":{"field":"a","type":"quantitative","scale":{"domain":[109.86,187.98],"range":[83,612.5]},"axis":{"orient":"top","offset":-36,"values":[120,140,160,180],"tickSize":-7,"labels":false,"title":"J1921+2153 B1919+21_L405404_SAP0_BEAM0.paz.fscr.pdmp.AR","titleX":348,"titleY":-29}},"y":{"field":"a","type":"quantitative","scale":{"domain":[91.45,127.75],"range":[369.7,36]},"axis":{"orient":"right","offset":-0.5,"values":[100,110,120],"tickSize":-7,"labels":false,"title":null}}}},
{"data":{"name":"e"},"mark":{"type":"point","opacity":0},"encoding":{"x":{"field":"a","type":"quantitative","scale":{"domain":[109.86,187.98],"range":[83,612.5]},"axis":{"orient":"top","offset":-36,"values":[110,130,150,170],"tickSize":-3,"labels":false,"domain":false,"title":"Freq: 148.920 MHz BW: 78.125 Length: 1793.149 S/N: 4479.561","titleX":348,"titleY":-12}},"y":{"field":"a","type":"quantitative","scale":{"domain":[91.45,127.75],"range":[369.7,36]},"axis":{"orient":"right","offset":-0.5,"values":[92,94,96,98,102,104,106,108,112,114,116,118,122,124,126],"tickSize":-3,"labels":false,"domain":false,"title":null}}}},
{"data":{"name":"e"},"mark":{"type":"point","opacity":0},"encoding":{"x":{"field":"a","type":"quantitative","scale":{"domain":[109.86,187.98],"range":[83,612.5]},"axis":{"orient":"bottom","offset":-39.7,"values":[120,140,160,180],"tickSize":-7,"labelPadding":20,"title":"Frequency (MHz)","titleX":348,"titleY":31}},"y":{"field":"a","type":"quantitative","scale":{"domain":[-1.3,16.3],"range":[428.3,370]},"axis":{"orient":"left","offset":-83,"values":[0,5,10,15],"tickSize":-7,"labelPadding":25,"title":"Weight","titleX":-39,"titleY":398}}}},
{"data":{"name":"e"},"mark":{"type":"point","opacity":0},"encoding":{"x":{"field":"a","type":"quantitative","scale":{"domain":[109.86,187.98],"range":[83,612.5]},"axis":{"orient":"bottom","offset":-39.7,"values":[110,130,150,170],"tickSize":-3,"labels":false,"domain":false,"title":null}},"y":{"field":"a","type":"quantitative","scale":{"domain":[-1.3,16.3],"range":[428.3,370]},"axis":{"orient":"left","offset":-83,"values":[2.5,7.5,12.5],"tickSize":-3,"labels":false,"domain":false,"title":null}}}},
{"data":{"name":"e"},"mark":{"type":"point","opacity":0},"encoding":{"x":{"field":"a","type":"quantitative","scale":{"domain":[109.86,187.98],"range":[83,612.5]},"axis":{"orient":"top","offset":-370,"values":[120,140,160,180],"tickSize":-5,"labels":false,"domainColor":"#111","title":null}},"y":{"field":"a","type":"quantitative","scale":{"domain":[-1.3,16.3],"range":[428.3,370]},"axis":{"orient":"right","offset":-0.5,"values":[0,5,10,15],"tickSize":-7,"labels":false,"title":null}}}}
]}
]}
